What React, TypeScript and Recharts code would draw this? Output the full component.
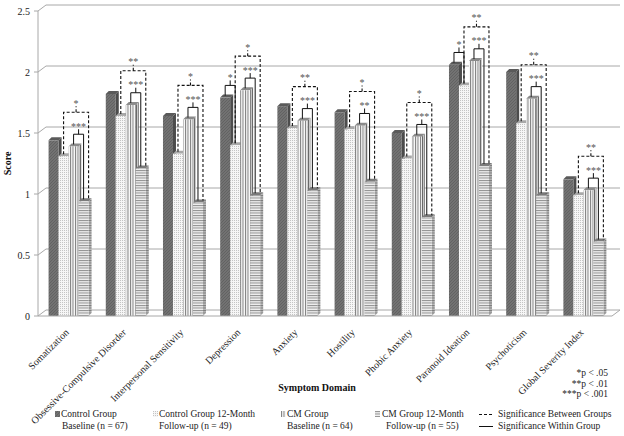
import React from 'react';
import { BarChart, Bar, XAxis, YAxis, CartesianGrid } from 'recharts';

const domains = [
  'Somatization',
  'Obsessive-Compulsive Disorder',
  'Interpersonal Sensitivity',
  'Depression',
  'Anxiety',
  'Hostility',
  'Phobic Anxiety',
  'Paranoid Ideation',
  'Psychoticism',
  'Global Severity Index',
];
const controlBaseline = [1.44, 1.82, 1.64, 1.79, 1.72, 1.67, 1.5, 2.06, 2.0, 1.12];
const controlFollowUp = [1.31, 1.64, 1.33, 1.4, 1.54, 1.53, 1.29, 1.89, 1.58, 0.99];
const cmBaseline = [1.39, 1.73, 1.61, 1.85, 1.6, 1.56, 1.47, 2.09, 1.78, 1.03];
const cmFollowUp = [0.94, 1.21, 0.93, 0.99, 1.03, 1.1, 0.81, 1.23, 0.99, 0.61];
const betweenSig = ['*', '**', '*', '*', '**', '*', '*', '**', '**', '**'];
const withinCmSig = ['***', '***', '***', '***', '***', '**', '***', '***', '***', '***'];
const withinControlSig = ['', '', '', '*', '', '', '', '*', '', ''];
const yTicks = [0, 0.5, 1, 1.5, 2, 2.5];

const data = domains.map((name, i) => ({
  name,
  cb: controlBaseline[i],
  cf: controlFollowUp[i],
  mb: cmBaseline[i],
  mf: cmFollowUp[i],
  between: betweenSig[i],
  withinCm: withinCmSig[i],
  withinCtrl: withinControlSig[i],
}));

const serif = '"Liberation Serif", "Times New Roman", serif';
const DEPTH = 3;
const WALL = 7;

const Box3D = ({ x, y, width, height, front, side, top }: any) => {
  if (!height || height <= 0) return null;
  const d = DEPTH;
  const r = x + width;
  return (
    <g>
      <polygon
        points={`${r},${y} ${r + d},${y - d} ${r + d},${y + height - d} ${r},${y + height}`}
        fill={side}
      />
      <polygon points={`${x},${y} ${x + d},${y - d} ${r + d},${y - d} ${r},${y}`} fill={top} />
      <rect x={x} y={y} width={width} height={height} fill={front} />
    </g>
  );
};

const Stars = ({ x, y, children }: any) => (
  <text x={x} y={y + 0.5} textAnchor="middle" fontSize={10} fontFamily={serif} fill="#555">
    {children}
  </text>
);

// last series draws its own box and every bracket of its category
const CmFollowUpShape = (props: any) => {
  const { x, y, width, height, payload } = props;
  const w = width;
  const k = height / payload.mf;
  const base = y + height;
  const yOf = (v: number) => base - v * k;
  const cbX = x - 3 * w + w / 2;
  const cfX = x - 2 * w + w / 2;
  const mbX = x - w + w / 2;
  const mfX = x + w / 2;

  const wTop = yOf(Math.max(payload.mb, payload.mf) + 0.1);
  const wMid = (mbX + mfX) / 2;
  const dTop = yOf(Math.max(payload.mb, payload.mf) + 0.28);
  const dLeft = cfX;
  const dRight = x + w;
  const dMid = (dLeft + dRight) / 2;
  const cTop = yOf(Math.max(payload.cb, payload.cf) + 0.1);
  const cMid = (cbX + cfX) / 2;

  return (
    <g>
      <Box3D {...props} front="url(#pMF)" side="url(#pMFs)" top="#7a7a7a" />
      <path
        d={`M${dLeft},${yOf(payload.cf) - 2} V${dTop} H${dRight} V${yOf(payload.mf) - 2} M${dMid},${dTop} V${dTop - 6}`}
        fill="none"
        stroke="#111"
        strokeWidth={1.1}
        strokeDasharray="3 2"
      />
      <Stars x={dMid} y={dTop - 6}>{payload.between}</Stars>
      <path
        d={`M${mbX},${yOf(payload.mb) - 2} V${wTop} H${mfX} V${yOf(payload.mf) - 2} M${wMid},${wTop} V${wTop - 5}`}
        fill="none"
        stroke="#111"
        strokeWidth={1}
      />
      <Stars x={wMid} y={wTop - 5}>{payload.withinCm}</Stars>
      {payload.withinCtrl ? (
        <g>
          <path
            d={`M${cbX},${yOf(payload.cb) - 2} V${cTop} H${cfX} V${yOf(payload.cf) - 2} M${cMid},${cTop} V${cTop - 5}`}
            fill="none"
            stroke="#111"
            strokeWidth={1}
          />
          <Stars x={cMid} y={cTop - 5}>{payload.withinCtrl}</Stars>
        </g>
      ) : null}
    </g>
  );
};

// gridlines sit on the back wall, joined to the axis by a short diagonal
const WallLine = (props: any) => {
  const { x1, x2, y1, index } = props;
  const yb = y1 - WALL + 1;
  return (
    <g key={`wall-${index}`}>
      <line x1={x1} y1={y1} x2={x1 + WALL + 1} y2={yb} stroke="#a8a8a8" />
      <line x1={x1 + WALL + 1} y1={yb} x2={x2 + WALL + 1} y2={yb} stroke="#a8a8a8" />
      {y1 > 300 ? <line x1={x2} y1={y1} x2={x2 + WALL + 1} y2={yb} stroke="#a8a8a8" /> : null}
    </g>
  );
};

const DomainTick = ({ x, y, payload }: any) => {
  const tx = x - 4;
  const ty = y + 4;
  return (
    <text
      x={tx}
      y={ty}
      dy={7}
      transform={`rotate(-45 ${tx} ${ty})`}
      textAnchor="end"
      fontSize={10}
      fontFamily={serif}
      fill="#222"
    >
      {payload.value}
    </text>
  );
};

const legendText: React.CSSProperties = {
  position: 'absolute',
  fontFamily: serif,
  fontSize: 9.5,
  lineHeight: '12px',
  color: '#222',
  whiteSpace: 'nowrap',
};

const Icon = ({ left, top, fill }: any) => (
  <svg style={{ position: 'absolute', left, top }} width={5} height={6}>
    <rect width={5} height={6} fill={fill} />
  </svg>
);

export default function App() {
  return (
    <div style={{ position: 'absolute', left: 0, top: 0, width: 624, height: 436, background: '#fff' }}>
      <BarChart
        width={624}
        height={436}
        data={data}
        margin={{ top: 11, right: 12, bottom: 0, left: 0 }}
        barCategoryGap="15%"
        barGap={0}
      >
        <defs>
          <pattern id="pCB" width="3" height="3" patternUnits="userSpaceOnUse">
            <rect width="3" height="3" fill="#727272" />
            <path d="M0,3 L3,0" stroke="#5e5e5e" strokeWidth="0.8" />
          </pattern>
          <pattern id="pCF" width="2" height="2" patternUnits="userSpaceOnUse">
            <rect width="2" height="2" fill="#f6f6f6" />
            <rect width="1" height="1" fill="#c4c4c4" />
          </pattern>
          <pattern id="pCFs" width="2" height="2" patternUnits="userSpaceOnUse">
            <rect width="2" height="2" fill="#d8d8d8" />
            <rect width="1" height="1" fill="#a0a0a0" />
          </pattern>
          <pattern id="pMB" width="2.5" height="3" patternUnits="userSpaceOnUse">
            <rect width="2.5" height="3" fill="#fafafa" />
            <rect width="1" height="3" fill="#7c7c7c" />
          </pattern>
          <pattern id="pMBs" width="2" height="3" patternUnits="userSpaceOnUse">
            <rect width="2" height="3" fill="#c8c8c8" />
            <rect width="1" height="3" fill="#6a6a6a" />
          </pattern>
          <pattern id="pMF" width="3" height="2.5" patternUnits="userSpaceOnUse">
            <rect width="3" height="2.5" fill="#f0f0f0" />
            <rect width="3" height="1" fill="#8e8e8e" />
          </pattern>
          <pattern id="pMFs" width="3" height="2.5" patternUnits="userSpaceOnUse">
            <rect width="3" height="2.5" fill="#b8b8b8" />
            <rect width="3" height="1" fill="#7a7a7a" />
          </pattern>
        </defs>
        <CartesianGrid vertical={false} horizontal={WallLine} />
        <XAxis
          dataKey="name"
          height={120}
          interval={0}
          padding={{ left: 2, right: 0 }}
          axisLine={{ stroke: '#a8a8a8' }}
          tickLine={false}
          tick={<DomainTick />}
          label={{
            content: ({ viewBox }: any) => (
              <text
                x={viewBox.x + viewBox.width / 2 - 8}
                y={viewBox.y + 75}
                textAnchor="middle"
                fontSize={10}
                fontWeight="bold"
                fontFamily={serif}
                fill="#111"
              >
                Symptom Domain
              </text>
            ),
          }}
        />
        <YAxis
          width={38}
          domain={[0, 2.5]}
          ticks={yTicks}
          axisLine={{ stroke: '#a8a8a8' }}
          tickLine={{ stroke: '#a8a8a8' }}
          tickSize={4}
          tick={{ fontSize: 10, fontFamily: serif, fill: '#222', dx: -2 }}
          label={{
            content: ({ viewBox }: any) => {
              const cx = viewBox.x + 11;
              const cy = viewBox.y + viewBox.height / 2;
              return (
                <text
                  x={cx}
                  y={cy}
                  transform={`rotate(-90 ${cx} ${cy})`}
                  textAnchor="middle"
                  fontSize={10}
                  fontWeight="bold"
                  fontFamily={serif}
                  fill="#111"
                >
                  Score
                </text>
              );
            },
          }}
        />
        <Bar
          dataKey="cb"
          isAnimationActive={false}
          shape={(p: any) => <Box3D {...p} front="url(#pCB)" side="#4c4c4c" top="#5a5a5a" />}
        />
        <Bar
          dataKey="cf"
          isAnimationActive={false}
          shape={(p: any) => <Box3D {...p} front="url(#pCF)" side="url(#pCFs)" top="#a8a8a8" />}
        />
        <Bar
          dataKey="mb"
          isAnimationActive={false}
          shape={(p: any) => <Box3D {...p} front="url(#pMB)" side="url(#pMBs)" top="#8a8a8a" />}
        />
        <Bar dataKey="mf" isAnimationActive={false} shape={(p: any) => <CmFollowUpShape {...p} />} />
      </BarChart>

      <div style={{ ...legendText, right: 16, top: 368, textAlign: 'right', lineHeight: '10.5px' }}>
        *p &lt; .05
        <br />
        **p &lt; .01
        <br />
        ***p &lt; .001
      </div>

      <Icon left={55} top={411} fill="url(#pCB)" />
      <div style={{ ...legendText, left: 61, top: 408 }}>Control Group</div>
      <div style={{ ...legendText, left: 62, top: 420 }}>Baseline (n = 67)</div>

      <Icon left={153} top={411} fill="url(#pCF)" />
      <div style={{ ...legendText, left: 159, top: 408 }}>Control Group 12-Month</div>
      <div style={{ ...legendText, left: 159, top: 420 }}>Follow-up (n = 49)</div>

      <Icon left={281} top={411} fill="url(#pMB)" />
      <div style={{ ...legendText, left: 287, top: 408 }}>CM Group</div>
      <div style={{ ...legendText, left: 287, top: 420 }}>Baseline (n = 64)</div>

      <Icon left={375} top={411} fill="url(#pMF)" />
      <div style={{ ...legendText, left: 382, top: 408 }}>CM Group 12-Month</div>
      <div style={{ ...legendText, left: 386, top: 420 }}>Follow-up (n = 55)</div>

      <svg style={{ position: 'absolute', left: 479, top: 408 }} width={16} height={20}>
        <line x1={0} y1={6.5} x2={14} y2={6.5} stroke="#111" strokeDasharray="3 2" />
        <line x1={0} y1={18.5} x2={14} y2={18.5} stroke="#111" />
      </svg>
      <div style={{ ...legendText, left: 498, top: 408 }}>Significance Between Groups</div>
      <div style={{ ...legendText, left: 498, top: 420 }}>Significance Within Group</div>
    </div>
  );
}
